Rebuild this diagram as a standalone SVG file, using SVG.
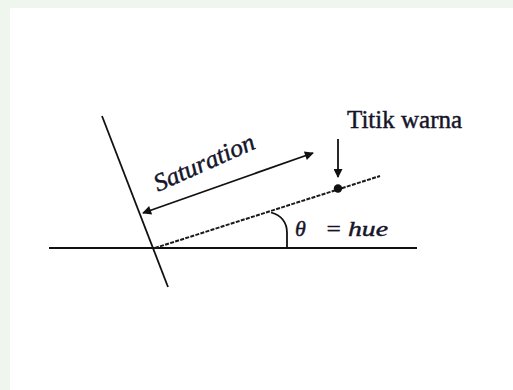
<svg xmlns="http://www.w3.org/2000/svg" width="513" height="390" viewBox="0 0 513 390">
<defs>
<style>
.ln{stroke:#111;stroke-width:1.8;fill:none}
.dash{stroke:#1a1a1a;stroke-width:2;fill:none;stroke-dasharray:4 1.3}
.tx{fill:#15152a;stroke:#15152a;stroke-width:0.45}
</style>
<marker id="ah" viewBox="0 0 10 10" refX="9" refY="5" markerWidth="11" markerHeight="9" markerUnits="userSpaceOnUse" orient="auto-start-reverse">
<path d="M0,0 L10,5 L0,10 Z" fill="#111"/>
</marker>
</defs>
<rect x="0" y="0" width="513" height="390" fill="#eef6ee"/>
<rect x="10" y="8" width="503" height="382" fill="#ffffff"/>
<g id="axes">
<line class="ln" x1="49" y1="248" x2="417" y2="248"/>
<line class="ln" x1="102" y1="116" x2="168" y2="287"/>
</g>
<g id="connectors">
<line class="dash" x1="155" y1="248" x2="380" y2="176"/>
<line class="ln" x1="143" y1="213" x2="313" y2="153" marker-start="url(#ah)" marker-end="url(#ah)"/>
<line class="ln" x1="338" y1="139" x2="338" y2="177" marker-end="url(#ah)"/>
<path class="ln" d="M271 212.5 Q287 217 287 233 L287 248"/>
</g>
<g id="point">
<circle cx="338" cy="188.5" r="4.2" fill="#111"/>
</g>
<g id="label-titik">
<text class="tx" x="347" y="128" font-size="25" font-family="'Liberation Serif'">Titik warna</text>
</g>
<g id="label-saturation">
<text class="tx" x="0" y="0" font-size="25" font-style="italic" font-family="'Liberation Serif'" transform="translate(158,192) rotate(-24)" textLength="108" lengthAdjust="spacingAndGlyphs">Saturation</text>
</g>
<g id="label-hue">
<text class="tx" y="236" font-size="22" font-style="italic" font-family="'Liberation Serif'"><tspan x="295">θ</tspan><tspan x="325" textLength="17" lengthAdjust="spacingAndGlyphs">=</tspan><tspan x="348" textLength="40" lengthAdjust="spacingAndGlyphs">hue</tspan></text>
</g>
</svg>
